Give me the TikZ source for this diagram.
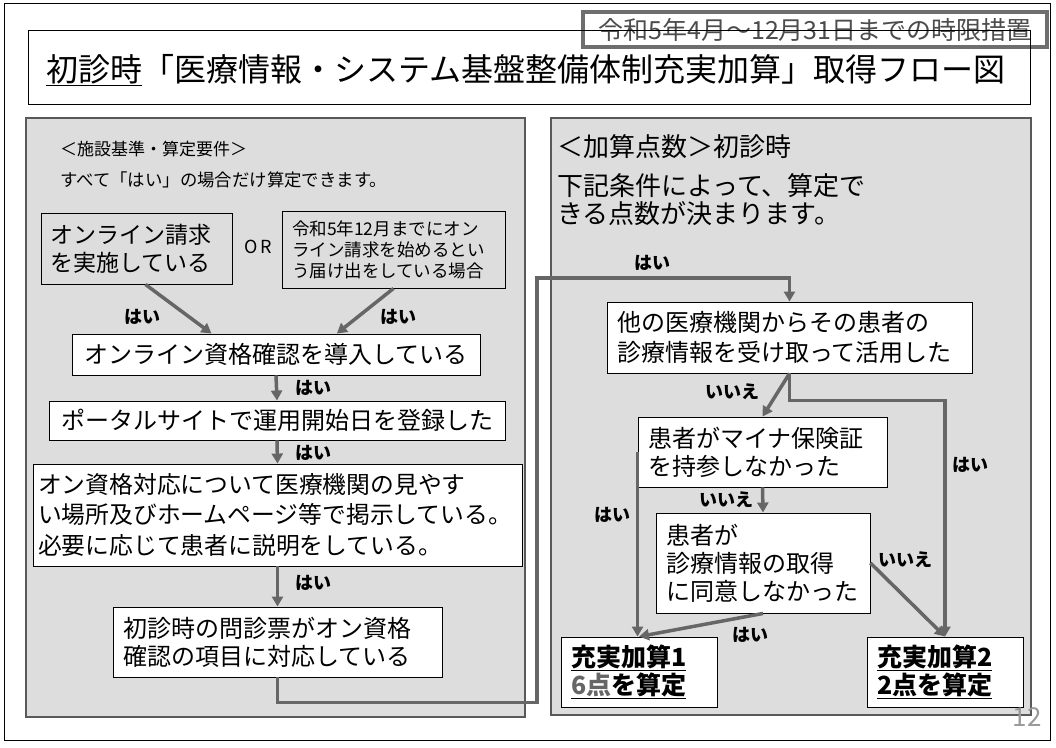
\documentclass[tikz,border=0pt]{standalone}
\usepackage{fontspec}
\setmainfont{Noto Sans CJK JP}
\usetikzlibrary{arrows.meta}
\definecolor{panelgray}{HTML}{DDDDDD}
\definecolor{panelline}{HTML}{595959}
\definecolor{linegray}{HTML}{666666}
\definecolor{taggray}{HTML}{6E6E6E}
\newcommand\fs[2]{\fontsize{#1}{#2}\selectfont}
\newcommand\undl[1]{\leavevmode\vtop{\hbox{#1}\kern0.6pt\hrule height1.3pt}}
\begin{document}
\begin{tikzpicture}[x=1pt,y=-1pt,
  box/.style={draw, line width=0.9pt, fill=white, inner ysep=0pt, align=left},
  lbl/.style={font=\bfseries\fs{18}{20}, inner sep=0pt},
  arr/.style={draw=linegray, line width=3.5pt, -{Triangle[length=10pt,width=11pt]}},
  panel/.style={draw=panelline, line width=1.2pt, fill=panelgray}]
\useasboundingbox (0,0) rectangle (1056,747);
\draw[line width=0.8pt] (4,3) rectangle (1050,740);

% tag and title
\node[draw=taggray, line width=4pt, fill=white, minimum width=464, minimum height=35, inner sep=0pt,
  text=black!70, font=\fs{25}{28}] (tag) at (815,29.5) {令和5年4月～12月31日までの時限措置};
\draw[line width=0.8pt] (28,30) rectangle (1030,104);
\node[anchor=west, inner sep=0pt, font=\fs{32}{36}] (title) at (46,70)
  {\undl{初診時}「医療情報・システム基盤整備体制充実加算」取得フロー図};

% left panel
\draw[panel] (26,118) rectangle (525,717);
\node[anchor=west, inner sep=0pt, font=\fs{17}{18}] (reqhead) at (60,149) {＜施設基準・算定要件＞};
\node[anchor=west, inner sep=0pt, font=\fs{17.4}{18}] (reqnote) at (60,180) {すべて「はい」の場合だけ算定できます。};

\node[box, fill=panelgray, minimum width=191, minimum height=71, inner xsep=9, text width=173,
  font=\fs{23}{28}] (online) at (136.5,248.5) {オンライン請求\\を実施している};
\node[font=\fs{18}{20}, inner sep=0pt] (or) at (258,247) {O\,R};
\node[box, fill=panelgray, minimum width=223, minimum height=77, inner xsep=10, text width=203,
  font=\fs{17.5}{21}] (plan) at (393.5,249.5) {令和5年12月までにオン\\ライン請求を始めるとい\\う届け出をしている場合};

\node[box, minimum width=408, minimum height=41, inner xsep=4, text width=400, align=center,
  font=\fs{24}{28}] (onshi) at (276,354.5) {オンライン資格確認を導入している};
\node[box, minimum width=456, minimum height=39, inner xsep=4, text width=448, align=center,
  font=\fs{24}{28}] (portal) at (277,420.5) {ポータルサイトで運用開始日を登録した};
\node[box, minimum width=489, minimum height=102, inner xsep=5, text width=479,
  font=\fs{23.8}{30.5}] (notice) at (277.5,515)
  {オン資格対応について医療機関の見やす\\い場所及びホームページ等で掲示している。\\必要に応じて患者に説明をしている。};
\node[box, minimum width=329, minimum height=70, inner xsep=10, text width=309,
  font=\fs{24}{28}] (form) at (277.5,642) {初診時の問診票がオン資格\\確認の項目に対応している};

\draw[arr] (online.-76) -- (onshi.162);
\draw[arr] (plan.south) -- (onshi.19);
\draw[arr] (onshi.south) -- (portal.north);
\draw[arr] (portal.south) -- (notice.north);
\draw[arr] (notice.south) -- (form.north);
\node[lbl] (y1) at (142,317) {はい};
\node[lbl] (y2) at (398,317) {はい};
\node[lbl] (y3) at (313,388) {はい};
\node[lbl] (y4) at (313,453) {はい};
\node[lbl] (y5) at (313,583) {はい};

% right panel
\draw[panel] (551,118) rectangle (1031,715);
\node[anchor=west, inner sep=0pt, font=\fs{26}{30}] (pthead) at (557,147) {＜加算点数＞初診時};
\node[anchor=north west, inner sep=0pt, align=left, font=\fs{26}{28}] (ptnote) at (557,173)
  {下記条件によって、算定で\\きる点数が決まります。};

\node[box, minimum width=365, minimum height=71, inner xsep=10, text width=345,
  font=\fs{24}{30}] (shared) at (789.5,337.5) {他の医療機関からその患者の\\診療情報を受け取って活用した};
\node[box, minimum width=249, minimum height=70, inner xsep=10, text width=229,
  font=\fs{24}{28}] (mycard) at (762.5,452) {患者がマイナ保険証\\を持参しなかった};
\node[box, minimum width=214, minimum height=100, inner xsep=10, text width=194,
  font=\fs{24}{28}] (consent) at (763,563) {患者が\\診療情報の取得\\に同意しなかった};
\node[box, minimum width=156, minimum height=70, inner xsep=10, text width=136,
  font=\bfseries\fs{25}{28}] (add1) at (639,672) {\undl{充実加算1}\\\undl{\textcolor{linegray}{6点}を算定}};
\node[box, minimum width=156, minimum height=70, inner xsep=10, text width=136,
  font=\bfseries\fs{25}{28}] (add2) at (945,672) {\undl{充実加算2}\\\undl{2点を算定}};

\coordinate (bend) at (537,278);
\draw[arr] (form.south) -- ++(0,25) -| (bend) -| (shared.north);
\draw[arr] (shared.south) -- (mycard.north);
\draw[arr] (shared.south) -- ++(0,27) -| (add2.north);
\draw[arr] (mycard.west) -- (mycard.west |- add1.north);
\draw[arr] (mycard.south) -- (consent.north);
\draw[arr] (consent.south) -- (add1.north);
\draw[arr] (consent.east) -- (add2.north);
\node[lbl] (y6) at (652,263) {はい};
\node[lbl] (n1) at (732,392) {いいえ};
\node[lbl] (y7) at (970,465) {はい};
\node[lbl] (y8) at (612,515) {はい};
\node[lbl] (n2) at (726,500) {いいえ};
\node[lbl] (y9) at (750,635) {はい};
\node[lbl] (n3) at (905,560) {いいえ};

\node[text=black!40, font=\fs{26}{28}, inner sep=0pt] (page) at (1027,717) {12};
\end{tikzpicture}
\end{document}
